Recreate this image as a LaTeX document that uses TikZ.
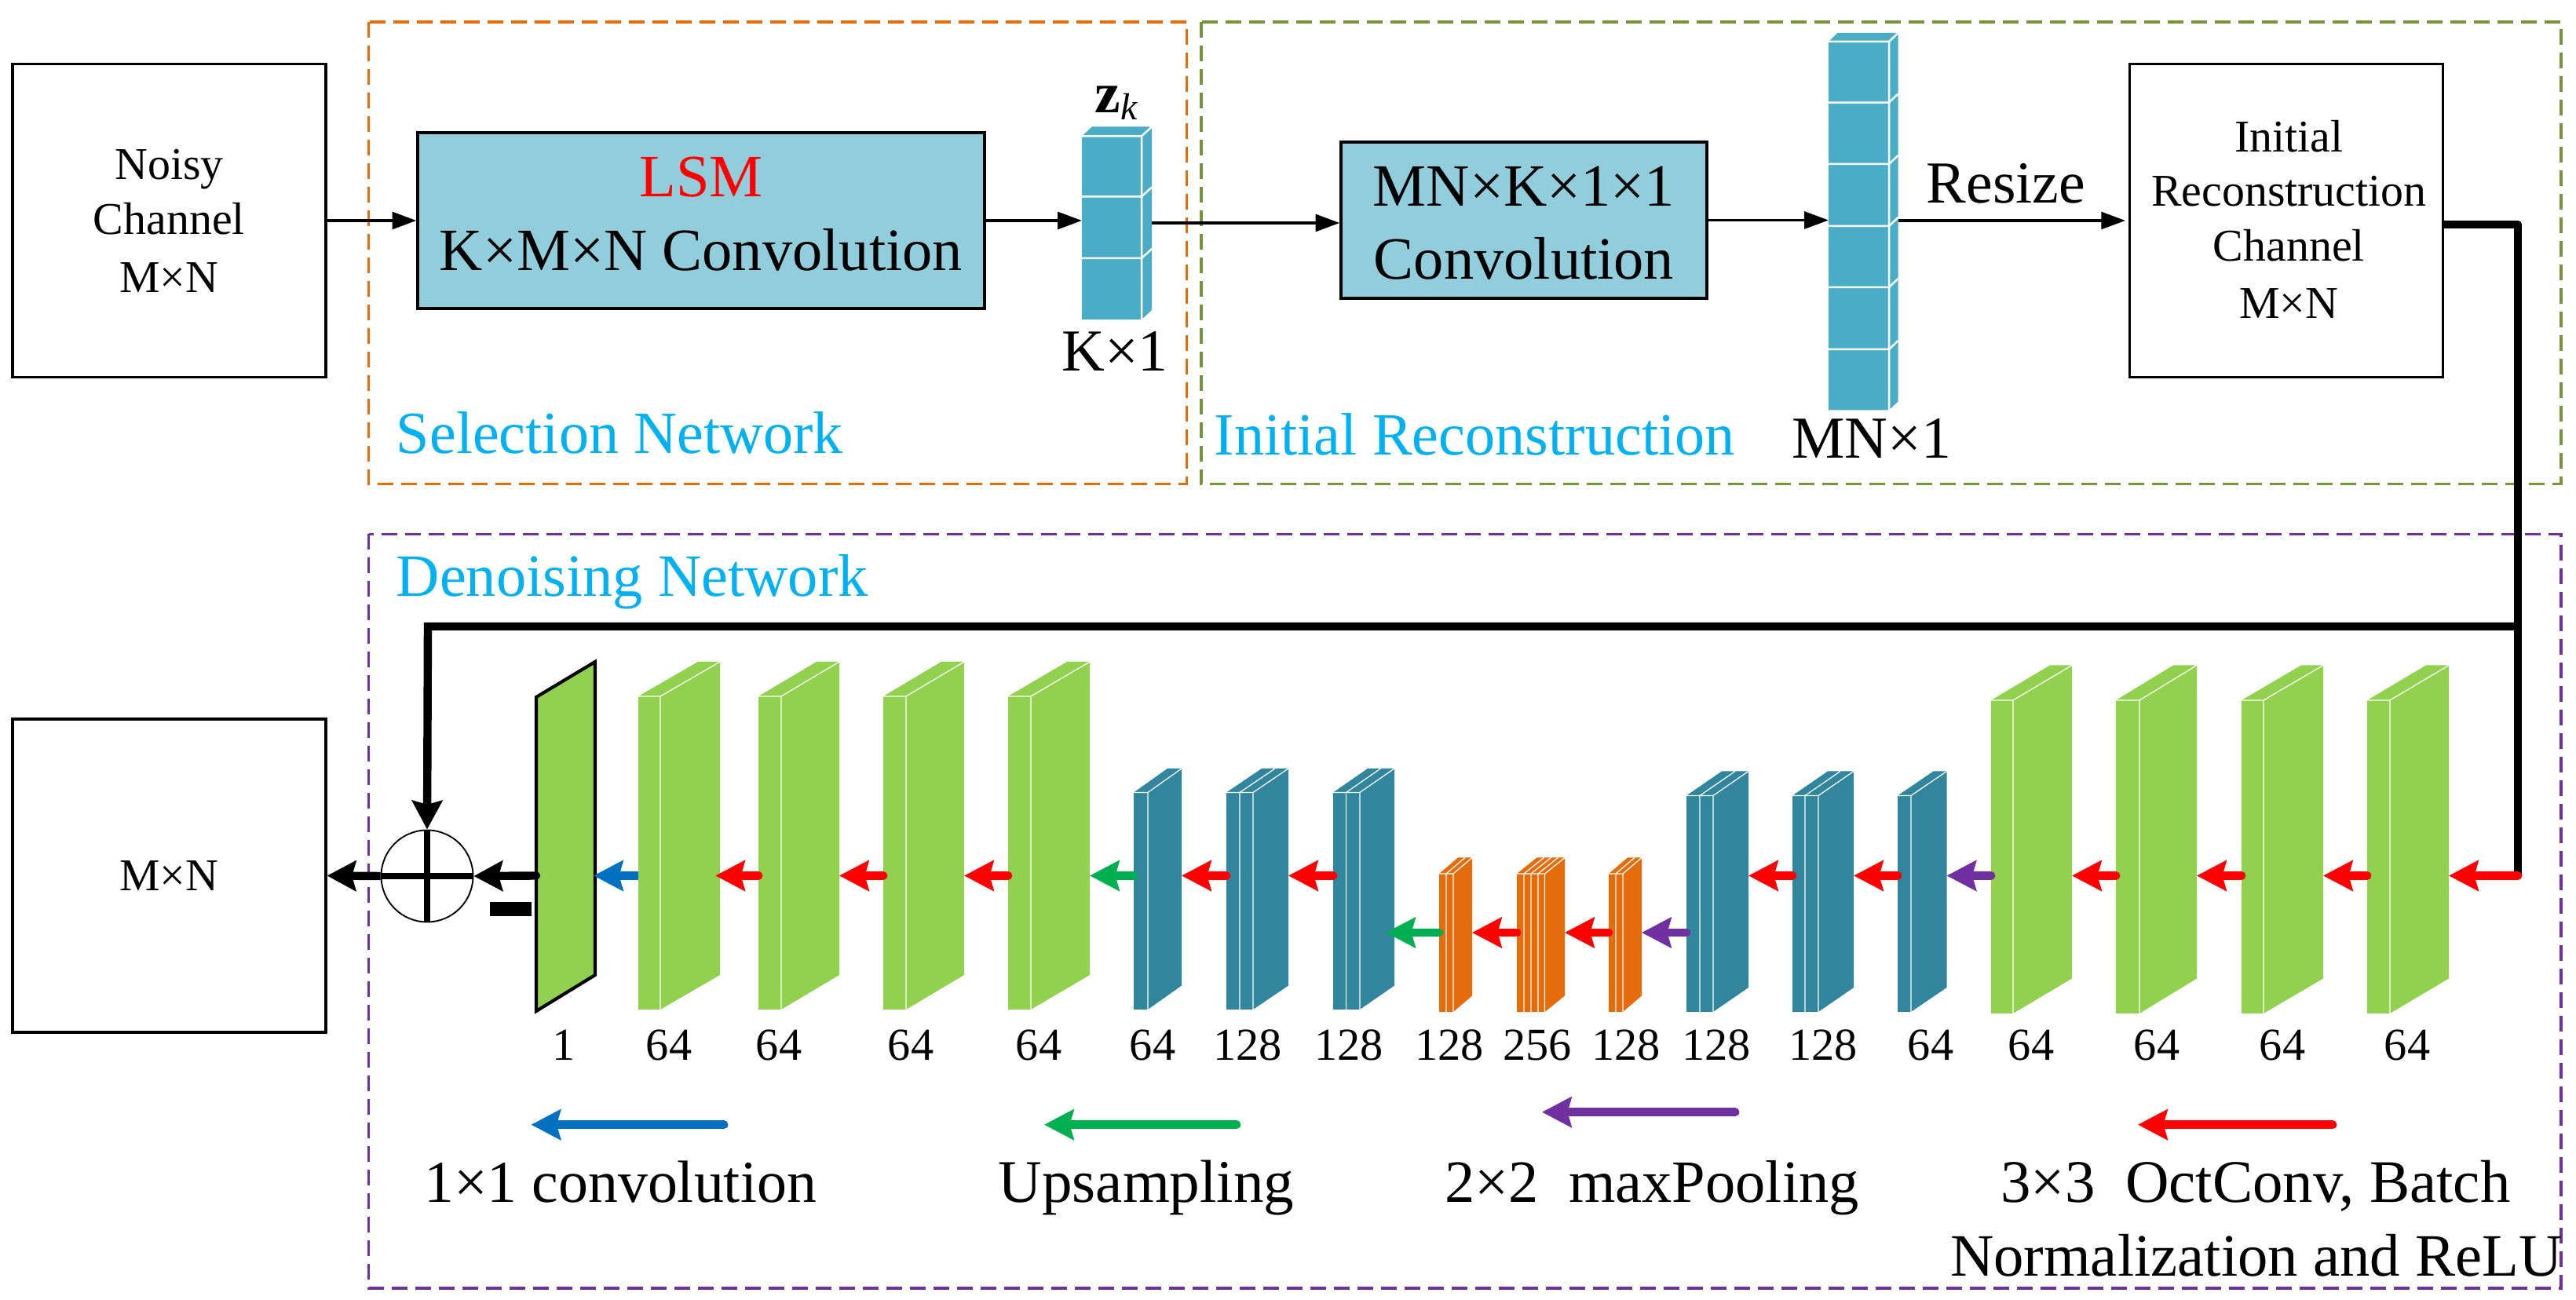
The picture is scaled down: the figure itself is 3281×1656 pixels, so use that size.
\documentclass[tikz,border=0pt]{standalone}
\usepackage{fontspec}
\setmainfont{Liberation Serif}
\usetikzlibrary{arrows.meta}
\definecolor{boxblue}{HTML}{92CDDC}
\definecolor{stackblue}{HTML}{4BACC6}
\definecolor{tealc}{HTML}{31859C}
\definecolor{greenc}{HTML}{92D050}
\definecolor{orangec}{HTML}{E46C0A}
\definecolor{framegreen}{HTML}{77933C}
\definecolor{purplec}{HTML}{7030A0}
\definecolor{cyanc}{HTML}{00B0F0}
\definecolor{blueA}{HTML}{0070C0}
\definecolor{greenA}{HTML}{00B050}
\def\pxu{0.24pt}
\newcommand{\fsz}[1]{\fontsize{#1}{#1}\selectfont}
\tikzset{
  frame/.style={line width=.8pt, dash pattern=on 4.8pt off 2.4pt},
  plainbox/.style={draw=black, line width=.78pt, fill=white, inner sep=0pt, align=center},
  convbox/.style={plainbox, fill=boxblue},
  thin arrow/.style={line width=.9pt, -{Triangle[length=7.4pt,width=5.2pt]}},
  bold line/.style={line width=2.5pt, line join=round},
  bold arrow/.style={line width=2.5pt, -{Stealth[length=8.8pt,width=9.2pt,inset=1.2pt]}},
  flow/.style={line width=2.6pt, line cap=round, -{Stealth[length=9pt,width=9.2pt,inset=1.2pt]}},
  slabline/.style={draw=white, line width=.3pt},
  stackline/.style={draw=white, line width=.6pt},
  txt/.style={anchor=base, inner sep=0pt, font=\fsz{18.2}},
  num/.style={anchor=base, inner sep=0pt, font=\fsz{14}},
  head/.style={anchor=base west, inner sep=0pt, text=cyanc},
}
% name, left, front right, dx, top, dy, bottom, colour, row
\newcommand{\slabx}[9]{%
  \fill[#8] (#2,#5) -- (#2,#7) -- (#3,#7) -- (#3+#4,#7-#6) -- (#3+#4,#5-#6) -- (#2+#4,#5-#6) -- cycle;
  \draw[slabline] (#2,#5) -- (#3,#5) (#3,#5) -- (#3,#7) (#3,#5) -- (#3+#4,#5-#6);
  \coordinate (#1-t) at (#2,#9);
  \coordinate (#1-h) at (#3+#4,#9);
}
% x, dx, top, dy, bottom
\newcommand{\slabdiv}[5]{\draw[slabline] (#1,#3) -- (#1,#5) (#1,#3) -- (#1+#2,#3-#4);}
% name, left, front right, dx, top, dy, bottom, row
\newcommand{\stackx}[8]{%
  \fill[stackblue] (#2,#5) -- (#2,#7) -- (#3,#7) -- (#3+#4,#7-#6) -- (#3+#4,#5-#6) -- (#2+#4,#5-#6) -- cycle;
  \draw[stackline] (#2,#5) -- (#3,#5) (#3,#5) -- (#3,#7) (#3,#5) -- (#3+#4,#5-#6);
  \coordinate (#1-w) at (#2,#8);
  \coordinate (#1-e) at (#3+#4,#8);
}
% y, left, front right, dx, dy
\newcommand{\stackdiv}[5]{\draw[stackline] (#2,#1) -- (#3,#1) -- (#3+#4,#1-#5);}
\begin{document}
\begin{tikzpicture}[x=0.24pt,y=-0.24pt]
\useasboundingbox (0,0) rectangle (3281,1656);
% frames
\draw[frame,draw=orangec] (469.5,28) rectangle (1511.5,616.5);
\draw[frame,draw=framegreen] (1530,28) rectangle (3262,616.5);
\draw[frame,draw=purplec] (469.5,680.5) rectangle (3262,1641);
\node[head,font=\fsz{18.28}] (selhead) at (504,578) {Selection Network};
\node[head,font=\fsz{18.3}] (inihead) at (1546,579.6) {Initial Reconstruction};
\node[head,font=\fsz{18.35}] (dnhead) at (504,760) {Denoising Network};
% boxes
\node[plainbox,minimum width={399*\pxu},minimum height={399*\pxu},font=\fontsize{13.9}{16.9}\selectfont] (noisy) at (215.5,281) {Noisy\\Channel\\[.8pt]M×N};
\node[convbox,minimum width={722*\pxu},minimum height={224*\pxu},font=\fontsize{18.35}{22.6}\selectfont] (lsm) at (893,281) {\textcolor{red}{LSM}\\K×M×N Convolution\rule[-4.3pt]{0pt}{4.3pt}};
\node[convbox,minimum width={466*\pxu},minimum height={199*\pxu},font=\fontsize{18.35}{22.3}\selectfont] (mm) at (1941,280.5) {\rule{0pt}{14pt}MN×K×1×1\\Convolution};
\node[plainbox,minimum width={399*\pxu},minimum height={399*\pxu},font=\fontsize{13.9}{16.7}\selectfont] (init) at (2912,281) {\hspace*{1.6pt}Initial\\\hspace*{1.6pt}Reconstruction\\\hspace*{1.6pt}Channel\\[.8pt]\hspace*{1.6pt}M×N\rule[-.9pt]{0pt}{.9pt}};
\node[plainbox,minimum width={399*\pxu},minimum height={399*\pxu},font=\fsz{13.9}] (out) at (215.5,1115.5) {M×N};
% stacks
\stackx{zk}{1378}{1454}{13}{173.5}{12}{407}{284}
\stackdiv{250.5}{1378}{1454}{13}{12}
\stackdiv{329}{1378}{1454}{13}{12}
\stackx{col}{2329}{2406}{11.5}{53}{11}{522.4}{281}
\stackdiv{130.6}{2329}{2406}{11.5}{11}
\stackdiv{209}{2329}{2406}{11.5}{11}
\stackdiv{288}{2329}{2406}{11.5}{11}
\stackdiv{366}{2329}{2406}{11.5}{11}
\stackdiv{445}{2329}{2406}{11.5}{11}
\node[anchor=base west,inner sep=0pt] (zlabel) at (1394,143.7) {\fsz{17.6}\textbf{z}\raisebox{-2.2pt}{\fsz{11.5}\textit{k}}};
\node[txt] (klabel) at (1420,473) {K×1};
\node[txt] (mnlabel) at (2384,584) {MN×1};
\node[txt] (resize) at (2555,258.7) {Resize};
% top connectors
\draw[thin arrow] (noisy.east) -- (lsm.west);
\draw[thin arrow] (lsm.east) -- (lsm.east -| zk-w);
\draw[thin arrow] (zk-e) -- (zk-e -| mm.west);
\draw[thin arrow] (mm.east) -- (mm.east -| col-w);
\draw[thin arrow,shorten >=.9pt] (col-e) -- (col-e -| init.west);
% output layer
\fill[greenc,draw=black,line width=1pt] (683,888) -- (758,843) -- (758,1242) -- (683,1288) -- cycle;
\coordinate (pa-t) at (683,1115.5);
\coordinate (pa-h) at (756,1115.5);
% green slabs, left part
\slabx{ga}{813}{841}{76}{887}{44}{1286}{greenc}{1115.5}
\slabx{gb}{966}{995}{74}{887}{44}{1286}{greenc}{1115.5}
\slabx{gc}{1125}{1154}{74}{887}{44}{1286}{greenc}{1115.5}
\slabx{gd}{1284}{1313}{75}{887}{44}{1286}{greenc}{1115.5}
% teal slabs, left part
\slabx{ta}{1444}{1462}{43}{1009.5}{30.5}{1286}{tealc}{1115.5}
\slabx{tb}{1562}{1596}{45}{1009.5}{30.5}{1286}{tealc}{1115.5}
\slabdiv{1579}{45}{1009.5}{30.5}{1286}
\slabx{tc}{1698}{1732}{44}{1009.5}{30.5}{1286}{tealc}{1115.5}
\slabdiv{1714.5}{44}{1009.5}{30.5}{1286}
% orange slabs
\slabx{oa}{1833}{1851}{24}{1113}{20.5}{1289}{orangec}{1188}
\slabdiv{1842}{24}{1113}{20.5}{1289}
\slabx{ob}{1932}{1967.6}{25.4}{1113}{20.5}{1289}{orangec}{1188}
\slabdiv{1941}{25.4}{1113}{20.5}{1289}
\slabdiv{1950}{25.4}{1113}{20.5}{1289}
\slabdiv{1959}{25.4}{1113}{20.5}{1289}
\slabx{oc}{2049}{2067}{24}{1113}{20.5}{1289}{orangec}{1188}
\slabdiv{2058}{24}{1113}{20.5}{1289}
% teal slabs, right part
\slabx{td}{2148}{2182}{45}{1013.5}{31}{1289}{tealc}{1115.5}
\slabdiv{2165}{45}{1013.5}{31}{1289}
\slabx{te}{2283}{2316}{45}{1013.5}{31}{1289}{tealc}{1115.5}
\slabdiv{2299}{45}{1013.5}{31}{1289}
\slabx{tf}{2417}{2434}{45.5}{1013.5}{31}{1289}{tealc}{1115.5}
% green slabs, right part
\slabx{ge}{2536}{2564}{75}{892}{44.5}{1291}{greenc}{1115.5}
\slabx{gf}{2695}{2725}{73}{892}{44.5}{1291}{greenc}{1115.5}
\slabx{gg}{2855}{2883}{76}{892}{44.5}{1291}{greenc}{1115.5}
\slabx{gh}{3015}{3044}{75}{892}{44.5}{1291}{greenc}{1115.5}
% adder
\node[circle,draw=black,line width=.45pt,minimum size={117*\pxu},inner sep=0pt] (add) at (544,1116) {};
\draw[line width=1.9pt] (add.north) -- (add.south);
\draw[line width=1.8pt] (add.west) -- (add.east);
\fill[black] (624,1149) rectangle (677,1167);
% bold feedback lines
\coordinate (bendA) at (3207,286);
\coordinate (bendB) at (3207,798);
\coordinate (bendC) at (545,798);
\coordinate (bendD) at (3207,1115.5);
\draw[bold line] (bendA -| init.east) -- (bendA) -- (bendB);
\draw[bold line] (bendB) -- (bendD);
\draw[bold arrow] (bendB) -- (bendC) -- (add.north);
\draw[bold arrow,line cap=round] (pa-t) -- (add.east);
\draw[bold arrow] (add.west) -- (out.east);
% flow arrows
\draw[flow,draw=red,fill=red] (bendD) -- (gh-h);
\draw[flow,draw=red,fill=red] (gh-t) -- (gg-h);
\draw[flow,draw=red,fill=red] (gg-t) -- (gf-h);
\draw[flow,draw=red,fill=red] (gf-t) -- (ge-h);
\draw[flow,draw=purplec,fill=purplec] (ge-t) -- (tf-h);
\draw[flow,draw=red,fill=red] (tf-t) -- (te-h);
\draw[flow,draw=red,fill=red] (te-t) -- (td-h);
\draw[flow,draw=purplec,fill=purplec] (td-t |- oc-h) -- (oc-h);
\draw[flow,draw=red,fill=red] (oc-t) -- (ob-h);
\draw[flow,draw=red,fill=red] (ob-t) -- (oa-h);
\draw[flow,draw=greenA,fill=greenA,shorten >=-2.6pt] (oa-t) -- (oa-t -| tc-h);
\draw[flow,draw=red,fill=red] (tc-t) -- (tb-h);
\draw[flow,draw=red,fill=red] (tb-t) -- (ta-h);
\draw[flow,draw=greenA,fill=greenA] (ta-t) -- (gd-h);
\draw[flow,draw=red,fill=red] (gd-t) -- (gc-h);
\draw[flow,draw=red,fill=red] (gc-t) -- (gb-h);
\draw[flow,draw=red,fill=red,shorten >=-1.4pt] (gb-t) -- (ga-h);
\draw[flow,draw=blueA,fill=blueA,line cap=butt] (ga-t) -- (pa-h);
% channel counts
\foreach \i/\x/\t in {1/718/1,2/852/64,3/992/64,4/1160/64,5/1323/64,6/1468/64,7/1589/128,8/1718/128,9/1846/128,10/1958/256,11/2071/128,12/2186/128,13/2322/128,14/2459/64,15/2587/64,16/2747/64,17/2907/64,18/3066/64}
  \node[num] (n\i) at (\x,1350.7) {\t};
% legend
\coordinate (lga) at (922,1432.7);  \coordinate (lgb) at (676.5,1432.7);
\coordinate (lgc) at (1575,1432.7); \coordinate (lgd) at (1330,1432.7);
\coordinate (lge) at (2210,1416.7); \coordinate (lgf) at (1964,1416.7);
\coordinate (lgg) at (2971,1432.7); \coordinate (lgh) at (2723,1432.7);
\draw[flow,draw=blueA,fill=blueA] (lga) -- (lgb);
\draw[flow,draw=greenA,fill=greenA] (lgc) -- (lgd);
\draw[flow,draw=purplec,fill=purplec] (lge) -- (lgf);
\draw[flow,draw=red,fill=red] (lgg) -- (lgh);
\node[txt] (lt1) at (790,1531.7) {1×1 convolution};
\node[txt,font=\fsz{18.5}] (lt2) at (1460,1531.7) {Upsampling};
\node[txt,font=\fsz{18.35}] (lt3) at (2104,1531.7) {2×2\ \ maxPooling};
\node[txt,font=\fsz{18.45}] (lt4) at (2873,1532) {3×3\ \ OctConv, Batch};
\node[txt,font=\fsz{18.4}] (lt5) at (2873.7,1625.7) {Normalization and ReLU};
\end{tikzpicture}
\end{document}
